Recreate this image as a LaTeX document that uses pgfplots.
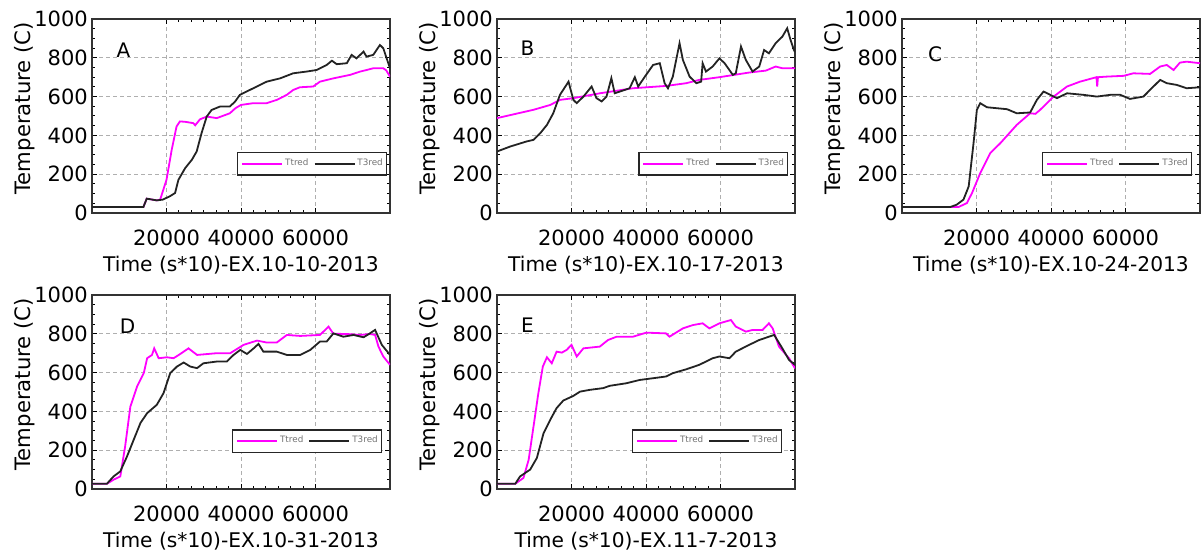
\documentclass[border=0pt]{standalone}
\usepackage{fontspec}
\setmainfont{DejaVu Sans}
\usepackage{pgfplots}
\pgfplotsset{compat=1.18}
\definecolor{mag}{RGB}{255,0,255}
\definecolor{blk}{RGB}{35,35,35}
\definecolor{gridc}{RGB}{175,175,175}
\tikzset{letter/.style={font=\fontsize{10}{12}\selectfont}}
\pgfplotsset{
 myax/.style={
  scale only axis, width=149pt, height=97pt,
  xmin=0, xmax=80000, ymin=0, ymax=1000,
  xtick={20000,40000,60000}, ytick={0,200,400,600,800,1000},
  minor x tick num=5, minor y tick num=3,
  tick align=inside, major tick length=2.5pt, minor tick length=1.5pt,
  tick style={black, line width=0.5pt},
  axis line style={black!80, line width=0.6pt},
  grid=major, major grid style={gridc, dashed, dash pattern=on 2pt off 1.5pt, line width=0.5pt},
  scaled x ticks=false,
  /pgf/number format/assume math mode=true,
  /pgf/number format/1000 sep={},
  tick label style={font=\fontsize{10.5}{12}\selectfont},
  xticklabel style={yshift=-5pt},
  yticklabel style={xshift=1.4pt},
  ylabel={Temperature (C)},
  every axis y label/.style={at={(axis description cs:0,0.54)}, xshift=-33.5pt, rotate=90, anchor=center, font=\fontsize{10.6}{12}\selectfont},
  every axis x label/.style={at={(axis description cs:0.5,0)}, yshift=-26pt, anchor=center, font=\fontsize{10.1}{12}\selectfont},
  legend columns=2,
  legend cell align=left,
  legend image code/.code={\draw[#1] (0pt,0pt) -- (20pt,0pt);},
  legend style={font=\fontsize{4.4}{5}\selectfont\color{black!55}, draw=black!85, line width=0.6pt,
    inner xsep=1.8pt, inner ysep=3.1pt, nodes={inner sep=0pt}, row sep=0pt, column sep=1pt,
    /tikz/every even column/.append style={column sep=2.6pt}},
 },
 magl/.style={mag, line width=0.9pt},
 blkl/.style={blk, line width=0.9pt},
}
\begin{document}
\begin{tikzpicture}
\useasboundingbox (0,0) rectangle (601pt,277.5pt);
% ---------------- A
\begin{axis}[myax, at={(46pt,171pt)}, anchor=south west,
  xlabel={Time (s*10)-EX.10-10-2013},
  legend style={at={(0.99,0.253)}, anchor=east}]
\addplot[magl] coordinates {(0,31) (13800,31) (14700,74) (17400,65) (18300,69) (20000,171) (21400,326) (22700,446) (23600,472) (25000,470) (27200,463) (27700,452) (29000,483) (30800,497) (33500,489) (37000,514) (38500,540) (40000,557) (43300,566) (46900,566) (49600,583) (52300,609) (54000,634) (55800,648) (59400,652) (61200,677) (64800,694) (69300,712) (72000,729) (73700,737) (75500,746) (78200,746) (79000,735) (80000,703)};
\addlegendentry{Ttred}
\addplot[blkl] coordinates {(0,31) (13800,31) (14700,74) (17400,65) (19000,69) (20900,86) (22300,103) (23200,171) (25000,231) (26800,274) (28100,317) (29400,411) (30800,497) (32100,531) (34400,549) (37000,549) (38400,574) (39700,609) (43300,643) (46900,677) (50500,694) (54000,720) (57600,729) (60300,737) (63000,763) (64400,785) (65700,767) (68400,772) (69700,815) (71000,797) (72900,832) (73700,806) (75500,815) (77300,866) (78200,849) (79100,797) (80000,746)};
\addlegendentry{T3red}
\node[letter] at (axis description cs:0.106,0.84) {A};
\end{axis}
% ---------------- B
\begin{axis}[myax, at={(248.5pt,171pt)}, anchor=south west,
  xlabel={Time (s*10)-EX.10-17-2013},
  legend style={at={(0.977,0.253)}, anchor=east}]
\addplot[magl] coordinates {(0,489) (9800,532) (14300,557) (16900,583) (20500,592) (27600,617) (36500,643) (45400,655) (50800,669) (54300,686) (59700,700) (67700,724) (72200,734) (74800,755) (76600,746) (80000,746)};
\addlegendentry{Ttred}
\addplot[blkl] coordinates {(0,317) (3600,343) (8000,369) (9800,377) (11600,411) (13400,454) (15100,514) (16900,609) (19200,677) (20500,583) (21400,566) (23200,600) (25400,652) (26700,592) (28100,575) (29400,600) (30700,695) (31600,617) (33000,626) (35600,643) (37000,700) (37900,652) (39700,703) (41900,763) (43700,772) (45000,669) (45900,643) (47200,703) (49000,875) (49900,789) (51700,703) (53500,669) (54800,677) (55200,772) (56100,729) (57900,755) (59700,797) (61100,772) (63300,712) (64100,720) (65500,858) (66800,789) (68600,729) (70400,755) (71700,840) (73000,823) (74800,875) (76600,909) (77900,952) (78800,892) (79700,840) (80000,830)};
\addlegendentry{T3red}
\node[letter] at (axis description cs:0.102,0.85) {B};
\end{axis}
% ---------------- C
\begin{axis}[myax, at={(451pt,171pt)}, anchor=south west,
  xlabel={Time (s*10)-EX.10-24-2013},
  legend style={at={(0.973,0.253)}, anchor=east}]
\addplot[magl] coordinates {(0,31) (15200,31) (17400,51) (18800,103) (21000,206) (23700,309) (26400,360) (30800,454) (34400,514) (35800,511) (37100,532) (40700,600) (44300,652) (47800,677) (52200,700) (52400,652) (52600,700) (55000,703) (59500,707) (62100,720) (66600,717) (69300,755) (71100,763) (72900,737) (74600,775) (76400,780) (80000,772)};
\addlegendentry{Ttred}
\addplot[blkl] coordinates {(0,31) (13000,31) (14700,43) (16500,69) (17900,137) (19200,360) (20100,532) (21000,566) (22800,545) (25500,540) (28200,535) (30800,514) (34400,518) (36200,583) (38000,626) (39800,609) (41600,592) (44300,617) (48700,609) (52300,600) (55900,609) (58600,609) (61200,588) (64800,600) (67500,652) (69300,686) (71100,669) (73800,660) (76400,643) (80000,648)};
\addlegendentry{T3red}
\node[letter] at (axis description cs:0.111,0.82) {C};
\end{axis}
% ---------------- D
\begin{axis}[myax, at={(46pt,33pt)}, anchor=south west,
  xlabel={Time (s*10)-EX.10-31-2013},
  legend style={at={(0.973,0.247)}, anchor=east}]
\addplot[magl] coordinates {(0,27) (4000,27) (5800,48) (7600,65) (8900,220) (10300,425) (12100,528) (13900,597) (14800,674) (16100,691) (16700,725) (17900,674) (20100,679) (21900,674) (23700,696) (25900,725) (28200,691) (33500,700) (37100,700) (40700,743) (44300,765) (46900,755) (49600,755) (52300,794) (55900,789) (61200,794) (63500,837) (64800,800) (68400,799) (72000,794) (74600,799) (76000,794) (76900,734) (78200,683) (80000,640)};
\addlegendentry{Ttred}
\addplot[blkl] coordinates {(0,27) (4000,27) (5800,65) (7600,91) (9400,168) (11200,254) (13000,340) (14800,391) (17400,434) (19200,494) (21000,597) (22800,631) (24600,652) (26400,631) (28200,623) (29900,648) (33500,657) (36200,657) (38000,691) (39800,717) (41600,696) (43400,725) (44700,748) (46000,708) (49600,708) (52300,691) (55900,691) (58600,717) (61200,760) (63000,760) (64800,802) (67500,785) (70200,794) (72900,782) (74600,802) (76000,820) (77800,743) (80000,691)};
\addlegendentry{T3red}
\node[letter] at (axis description cs:0.119,0.84) {D};
\end{axis}
% ---------------- E
\begin{axis}[myax, at={(248.5pt,33pt)}, anchor=south west,
  xlabel={Time (s*10)-EX.11-7-2013},
  legend style={at={(0.956,0.247)}, anchor=east}]
\addplot[magl] coordinates {(0,27) (4900,27) (7100,57) (8500,151) (9800,322) (11100,494) (12300,631) (13400,679) (14700,648) (16000,708) (17400,703) (18700,717) (20000,743) (21400,683) (23200,725) (27600,734) (29800,768) (32100,785) (36500,785) (40100,806) (45400,802) (46300,785) (49900,828) (52600,845) (55200,854) (57000,828) (59700,854) (62800,871) (64100,837) (66800,811) (68600,820) (71300,820) (73000,854) (74000,828) (75700,734) (78400,674) (80000,622)};
\addlegendentry{Ttred}
\addplot[blkl] coordinates {(0,27) (4900,27) (6200,65) (8900,100) (10700,160) (12500,288) (14300,357) (16000,417) (17800,456) (20500,480) (22300,502) (24900,511) (28500,520) (30300,532) (34700,545) (38300,562) (41900,571) (45400,580) (47200,597) (50800,617) (54300,640) (57900,674) (59700,683) (62400,674) (64100,708) (67700,743) (70400,768) (73000,785) (74400,794) (76600,725) (78400,665) (80000,640)};
\addlegendentry{T3red}
\node[letter] at (axis description cs:0.102,0.845) {E};
\end{axis}
\end{tikzpicture}
\end{document}
